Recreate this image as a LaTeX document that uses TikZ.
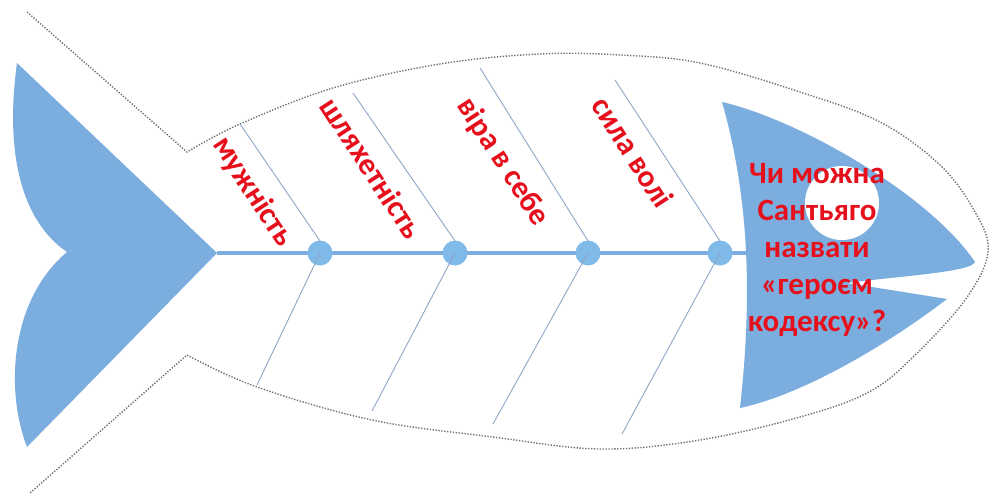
\documentclass[tikz,border=0pt]{standalone}
\usepackage{fontspec}
\setmainfont{Carlito}
\usepackage{xcolor}
\definecolor{FishBlue}{HTML}{7BAEDE}
\definecolor{JointBlue}{HTML}{7FBAE8}
\definecolor{BoneGrey}{HTML}{8FA6C6}
\definecolor{OutlineGrey}{HTML}{6E6E6E}
\definecolor{QuestionRed}{HTML}{E5101C}
\usepackage{tikz}
\usetikzlibrary{positioning, calc}
\tikzstyle{outline} = [draw=OutlineGrey, line width=1.4pt, dash pattern=on 1.3pt off 1.6pt]
\tikzstyle{spine} = [draw=FishBlue, line width=4.5pt]
\tikzstyle{bone} = [draw=BoneGrey, line width=0.9pt]
\tikzstyle{joint} = [circle, fill=JointBlue, minimum size=25pt, inner sep=0pt]
\tikzstyle{factor} = [text=QuestionRed, font=\bfseries\fontsize{31}{37}\selectfont, rotate=-57, inner sep=0pt]
\tikzstyle{question} = [text=QuestionRed, font=\bfseries\fontsize{31}{37}\selectfont, align=center, inner sep=0pt]

\begin{document}
\begin{tikzpicture}[x=1pt, y=-1pt]
        \useasboundingbox (0,0) rectangle (990,495);
        \fill[white] (0,0) rectangle (990,495);

        % Body outline
        \draw [outline] (27,12) -- plot[smooth, tension=0.6] coordinates {(187,152) (240,124) (333,88) (440,64) (540,54) (620,55) (700,63) (800,92) (880,122) (940,165) (975,212) (988,252) (965,300) (910,360) (867,393) (800,417) (700,440) (600,449) (493,437) (372,420) (257,387) (187,355)} -- (30,493);

        % Tail
        \coordinate (tailtip) at (217,253);
        \fill [FishBlue] (17,63) -- (tailtip) -- (27,447) .. controls (5,390) and (10,300) .. (67,252) .. controls (20,220) and (5,150) .. (17,63) -- cycle;

        % Head
        \coordinate (headedge) at (746,253);
        \fill [FishBlue] (722,102) .. controls (800,120) and (930,195) .. (975,262) .. controls (972,272) and (900,276) .. (847,283) -- (947,299) .. controls (880,350) and (800,395) .. (740,408) .. controls (752,300) and (750,200) .. (722,102) -- cycle;
        \fill [white] (842,203) circle (37);

        % Spine and joints
        \draw [spine] (tailtip) -- (headedge);
        \node [joint] (joint1) at (320,253) {};
        \node [joint] (joint2) at (455,253) {};
        \node [joint] (joint3) at (588,253) {};
        \node [joint] (joint4) at (720,253) {};

        % Bone ends
        \coordinate (up1) at (240,124);
        \coordinate (up2) at (353,93);
        \coordinate (up3) at (480,68);
        \coordinate (up4) at (615,80);
        \coordinate (lo1) at (257,385);
        \coordinate (lo2) at (372,411);
        \coordinate (lo3) at (493,424);
        \coordinate (lo4) at (622,434);

        \foreach \i in {1,...,4} {
            \draw [bone] (up\i) -- ($(joint\i.center)+(0,-12)$);
            \draw [bone] (joint\i.center) -- (lo\i);
        }

        % Labels
        \node [factor] (courage) at (253,192) {мужність};
        \node [factor] (nobility) at (372,168) {шляхетність};
        \node [factor] (faith) at (503,162) {віра в себе};
        \node [factor] (willpower) at (633,152) {сила волі};

        \node [question] (problem) at (817,250) {Чи можна\\Сантьяго\\назвати\\«героєм\\кодексу»?};
    \end{tikzpicture}
\end{document}
